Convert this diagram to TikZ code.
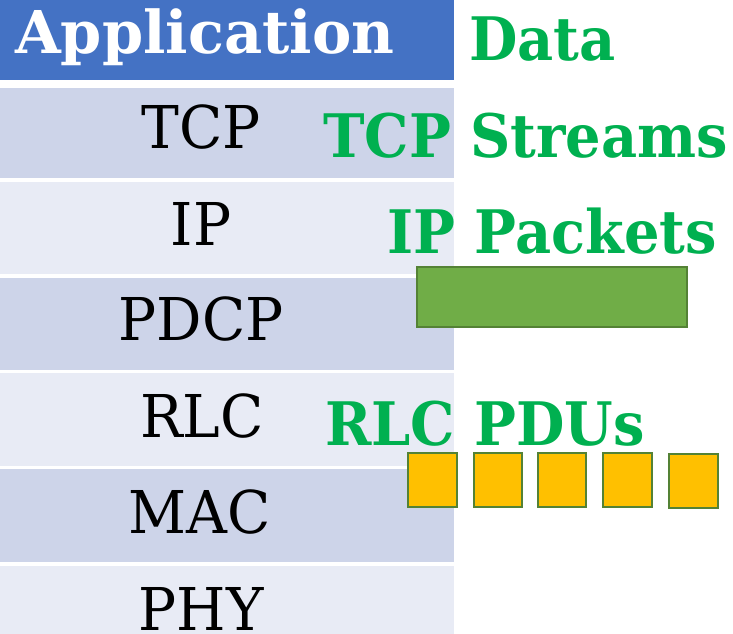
\documentclass[tikz,border=0pt]{standalone}
\usepackage{fontspec}
\setmainfont{DejaVu Serif}
\newfontfamily\unitfont{DejaVu Serif}[FakeStretch=0.93]
\newfontfamily\layerfont{DejaVu Serif}[FakeStretch=0.96]
\definecolor{appblue}{HTML}{4472C4}
\definecolor{rowdark}{HTML}{CDD4E9}
\definecolor{rowlight}{HTML}{E8EBF5}
\definecolor{labelgreen}{HTML}{00B050}
\definecolor{pktgreen}{HTML}{70AD47}
\definecolor{edgegreen}{HTML}{548235}
\definecolor{pduyellow}{HTML}{FFC000}
\tikzset{
  layer/.style={inner sep=0pt, anchor=base, font=\layerfont\fontsize{59}{60}\selectfont},
  unit/.style={inner sep=0pt, anchor=base west, text=labelgreen, font=\unitfont\fontsize{60}{62}\selectfont\bfseries},
  packet/.style={draw=edgegreen, line width=2pt, fill=pktgreen},
  pdu/.style={draw=edgegreen, line width=2pt, fill=pduyellow}
}
\begin{document}
\begin{tikzpicture}[x=1pt,y=-1pt]
\useasboundingbox (0,0) rectangle (733,634);
% protocol stack bands
\fill[appblue] (0,0) rectangle (454,80);
\fill[rowdark]  (0,88)  rectangle (454,178);
\fill[rowlight] (0,182) rectangle (454,274);
\fill[rowdark]  (0,278) rectangle (454,370);
\fill[rowlight] (0,373) rectangle (454,466);
\fill[rowdark]  (0,469) rectangle (454,562);
\fill[rowlight] (0,566) rectangle (454,634);
% layer names
\node[inner sep=0pt, anchor=base west, text=white, font=\fontsize{59}{60}\selectfont\bfseries] (app) at (15,53) {Application};
\node[layer] (tcp)  at (201,148) {TCP};
\node[layer] (ip)   at (201,245) {IP};
\node[layer] (pdcp) at (201,340) {PDCP};
\node[layer] (rlc)  at (202,437) {RLC};
\node[layer] (mac)  at (200,533) {MAC};
\node[layer] (phy)  at (201,630) {PHY};
% data units at each layer
\node[unit] (data)    at (469,60)  {Data};
\node[unit] (streams) at (323,157) {TCP Streams};
\node[unit] (packets) at (387,253) {IP Packets};
\node[unit] (pdus)    at (325,445) {RLC PDUs};
% IP packet
\draw[packet] (417,267) rectangle (687,327);
% RLC PDUs
\draw[pdu] (408,453) rectangle (457,507);
\draw[pdu] (474,453) rectangle (522,507);
\draw[pdu] (538,453) rectangle (586,507);
\draw[pdu] (603,453) rectangle (652,507);
\draw[pdu] (669,454) rectangle (718,508);
\end{tikzpicture}
\end{document}
